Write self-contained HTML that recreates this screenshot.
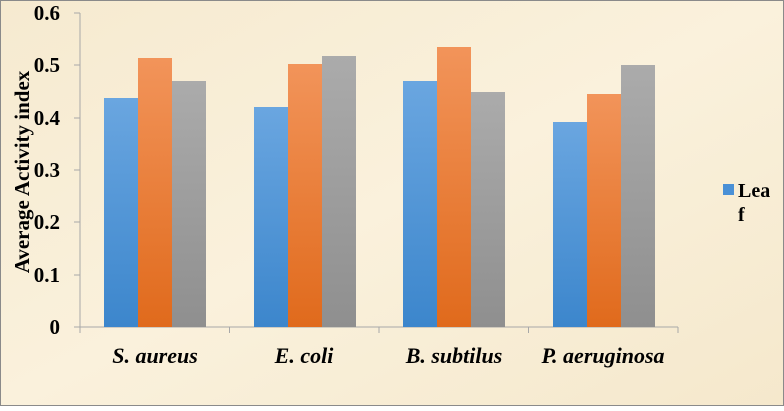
<!DOCTYPE html>
<html><head><meta charset="utf-8"><style>
body{margin:0;width:784px;height:406px;overflow:hidden}
</style></head><body>
<svg width="784" height="406" xmlns="http://www.w3.org/2000/svg" font-family="Liberation Serif, serif" font-weight="bold">
<defs>
<linearGradient id="bg" x1="0" y1="0" x2="1" y2="1"><stop offset="0" stop-color="#f6ead0"/><stop offset="0.5" stop-color="#faf1dc"/><stop offset="1" stop-color="#f5e8cc"/></linearGradient>
<linearGradient id="b" x1="0" y1="0" x2="0" y2="1"><stop offset="0" stop-color="#6aa6e0"/><stop offset="1" stop-color="#3c86cc"/></linearGradient>
<linearGradient id="o" x1="0" y1="0" x2="0" y2="1"><stop offset="0" stop-color="#f2945a"/><stop offset="1" stop-color="#e06a1c"/></linearGradient>
<linearGradient id="g" x1="0" y1="0" x2="0" y2="1"><stop offset="0" stop-color="#ababab"/><stop offset="1" stop-color="#8f8f8f"/></linearGradient>
</defs>
<rect x="0" y="0" width="784" height="406" fill="url(#bg)" stroke="#8a8a8a" stroke-width="2"/>
<g stroke="#a8a8a8" stroke-width="1">
<line x1="80" y1="13" x2="80" y2="327"/>
<line x1="74" y1="327" x2="678" y2="327"/>
<line x1="74" y1="13" x2="80" y2="13"/><line x1="74" y1="65" x2="80" y2="65"/><line x1="74" y1="118" x2="80" y2="118"/><line x1="74" y1="170" x2="80" y2="170"/><line x1="74" y1="222" x2="80" y2="222"/><line x1="74" y1="275" x2="80" y2="275"/>
<line x1="80" y1="327" x2="80" y2="333"/><line x1="229.5" y1="327" x2="229.5" y2="333"/><line x1="379" y1="327" x2="379" y2="333"/><line x1="528.5" y1="327" x2="528.5" y2="333"/><line x1="678" y1="327" x2="678" y2="333"/>
</g>
<g font-size="21" text-anchor="end" fill="#000">
<text x="60" y="20">0.6</text><text x="60" y="72">0.5</text><text x="60" y="125">0.4</text><text x="60" y="177">0.3</text><text x="60" y="229">0.2</text><text x="60" y="282">0.1</text><text x="60" y="334">0</text>
</g>
<text transform="translate(29,172) rotate(-90)" text-anchor="middle" font-size="21">Average Activity index</text>
<g>
<rect x="104" y="98" width="34" height="229" fill="url(#b)"/><rect x="138" y="58" width="34" height="269" fill="url(#o)"/><rect x="172" y="81" width="34" height="246" fill="url(#g)"/>
<rect x="254" y="107" width="34" height="220" fill="url(#b)"/><rect x="288" y="64" width="34" height="263" fill="url(#o)"/><rect x="322" y="56" width="34" height="271" fill="url(#g)"/>
<rect x="403" y="81" width="34" height="246" fill="url(#b)"/><rect x="437" y="47" width="34" height="280" fill="url(#o)"/><rect x="471" y="92" width="34" height="235" fill="url(#g)"/>
<rect x="553" y="122" width="34" height="205" fill="url(#b)"/><rect x="587" y="94" width="34" height="233" fill="url(#o)"/><rect x="621" y="65" width="34" height="262" fill="url(#g)"/>
</g>
<g font-size="22" font-style="italic" text-anchor="middle">
<text x="155" y="363">S. aureus</text><text x="304" y="363">E. coli</text><text x="454" y="363">B. subtilus</text><text x="603" y="363">P. aeruginosa</text>
</g>
<rect x="723" y="184" width="11" height="11" fill="#4a90d6"/>
<text x="738" y="197" font-size="20">Lea</text>
<text x="738" y="221" font-size="20">f</text>
</svg>
</body></html>
